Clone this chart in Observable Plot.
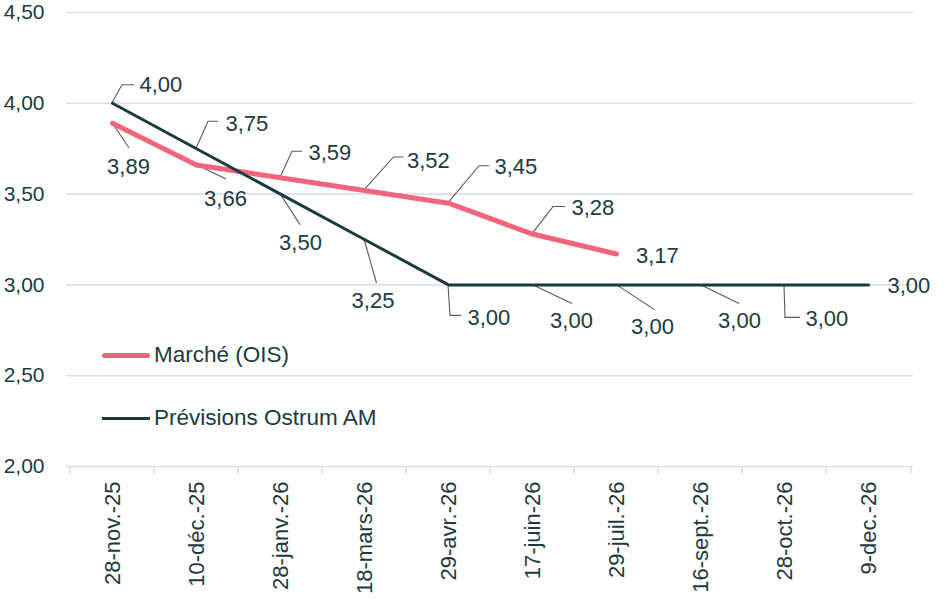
<!DOCTYPE html>
<html><head><meta charset="utf-8">
<script src="https://cdn.jsdelivr.net/npm/d3@7"></script>
<script src="https://cdn.jsdelivr.net/npm/@observablehq/plot@0.6"></script>
<style>
body{margin:0;background:#fff;font-family:"Liberation Sans",Arial,sans-serif;}
#wrap{position:relative;width:944px;height:599px;}
.leg{position:absolute;left:102px;display:flex;align-items:center;font-size:22.5px;line-height:26px;color:#1d3a40;white-space:nowrap;}
.sw{display:inline-block;width:48px;margin-right:4px;}
</style></head><body><div id="wrap"></div>
<script>
const categories = ["28-nov.-25","10-déc.-25","28-janv.-26","18-mars-26","29-avr.-26","17-juin-26","29-juil.-26","16-sept.-26","28-oct.-26","9-dec.-26"];
const marcheOIS = [3.89, 3.66, 3.59, 3.52, 3.45, 3.28, 3.17];
const previsionsOstrum = [4.00, 3.75, 3.50, 3.25, 3.00, 3.00, 3.00, 3.00, 3.00, 3.00];
const yTicks = [2.0, 2.5, 3.0, 3.5, 4.0, 4.5];
const seriesNames = ["Marché (OIS)", "Prévisions Ostrum AM"];

// colours
const pink = "#f2647b", dark = "#1b3a3f", textColor = "#1d3a40", gridColor = "#d7e0e8", leaderColor = "#5a5a5a";

// data-label placement (pixel offsets from each point)
const marcheLabelLayout = [
  {kind:"diag", ex:17, ey:25, tx:16, ty:44, anchor:"middle"},
  {kind:"diag", ex:30, ey:14.5, tx:29, ty:33.5, anchor:"middle"},
  {kind:"elbow", ex:12, ey:-26, hx:22, tx:28, ty:-25, anchor:"start"},
  {kind:"elbow", ex:29.5, ey:-33, hx:39.5, tx:42.5, ty:-30, anchor:"start"},
  {kind:"elbow", ex:31, ey:-37, hx:41, tx:46, ty:-36, anchor:"start"},
  {kind:"elbow", ex:21, ey:-27, hx:33, tx:39, ty:-26, anchor:"start"},
  {kind:"none", tx:19.5, ty:1.5, anchor:"start"}
];
const previsionsLabelLayout = [
  {kind:"elbow", ex:10, ey:-18, hx:22, tx:27, ty:-18, anchor:"start"},
  {kind:"elbow", ex:12, ey:-27, hx:22, tx:29, ty:-25, anchor:"start"},
  {kind:"diag", ex:20, ey:31, tx:20, ty:49, anchor:"middle"},
  {kind:"diag", ex:12.5, ey:44, tx:8.5, ty:61, anchor:"middle"},
  {kind:"elbow", ex:2, ey:31, hx:13, tx:19, ty:33, anchor:"start"},
  {kind:"diag", ex:40, ey:19, tx:39, ty:36, anchor:"middle"},
  {kind:"diag", ex:38, ey:25, tx:36, ty:42, anchor:"middle"},
  {kind:"diag", ex:39, ey:19, tx:39, ty:36, anchor:"middle"},
  {kind:"elbow", ex:1, ey:33, hx:16, tx:21, ty:34, anchor:"start"},
  {kind:"none", tx:19, ty:1, anchor:"start"}
];

const fmt = v => d3.format(".2f")(v).replace(".", ",");
const marcheRows = marcheOIS.map((v, i) => ({date: categories[i], value: v}));
const prevRows = previsionsOstrum.map((v, i) => ({date: categories[i], value: v}));

const W = 944, H = 599, mL = 66, mR = 31, mT = 12, mB = 133;
const step = (W - mL - mR) / categories.length;

function leaders(rows, layout) {
  return (index, scales) => {
    const g = d3.create("svg:g").attr("fill", "none").attr("stroke", leaderColor).attr("stroke-width", 1.1);
    rows.forEach((d, i) => {
      const l = layout[i];
      if (l.kind === "none") return;
      const px = scales.x(d.date), py = scales.y(d.value);
      const pts = l.kind === "elbow"
        ? [[px, py], [px + l.ex, py + l.ey], [px + l.hx, py + l.ey]]
        : [[px, py], [px + l.ex, py + l.ey]];
      g.append("path").attr("d", d3.line()(pts));
    });
    return g.node();
  };
}
function labels(rows, layout) {
  return rows.map((d, i) => Plot.text([d], {
    x: "date", y: "value", text: r => fmt(r.value),
    dx: layout[i].tx, dy: layout[i].ty, textAnchor: layout[i].anchor,
    fontSize: 22, fill: textColor
  }));
}

const chart = Plot.plot({
  width: W, height: H,
  marginLeft: mL, marginRight: mR, marginTop: mT, marginBottom: mB,
  style: {fontFamily: "'Liberation Sans', Arial, sans-serif", color: textColor, background: "#fff"},
  x: {type: "point", domain: categories, padding: 0.5},
  y: {domain: [2, 4.5]},
  marks: [
    Plot.ruleY(yTicks, {stroke: gridColor, strokeWidth: 1.6}),
    Plot.ruleX(categories, {x: d => d, y1: 2, y2: 2, insetBottom: -8, dx: -step / 2, stroke: gridColor, strokeWidth: 1.6}),
    Plot.ruleX(categories.slice(-1), {x: d => d, y1: 2, y2: 2, insetBottom: -8, dx: step / 2, stroke: gridColor, strokeWidth: 1.6}),
    Plot.axisY(yTicks, {tickSize: 0, tickPadding: 22, tickFormat: fmt, fontSize: 21, label: null, color: textColor}),
    Plot.axisX({tickSize: 0, tickPadding: 15, tickRotate: -90, fontSize: 22, label: null, color: textColor}),
    leaders(marcheRows, marcheLabelLayout),
    leaders(prevRows, previsionsLabelLayout),
    Plot.line(marcheRows, {x: "date", y: "value", stroke: pink, strokeWidth: 5, strokeLinecap: "round", strokeLinejoin: "round"}),
    Plot.line(prevRows, {x: "date", y: "value", stroke: dark, strokeWidth: 3, strokeLinejoin: "round"}),
    ...labels(marcheRows, marcheLabelLayout),
    ...labels(prevRows, previsionsLabelLayout)
  ]
});
const wrap = document.getElementById("wrap");
wrap.appendChild(chart);

// legend (overlaid inside the plot area, as in the original)
const legendItems = [
  {name: seriesNames[0], color: pink, thick: 5, top: 342},
  {name: seriesNames[1], color: dark, thick: 3, top: 405}
];
legendItems.forEach(it => {
  const div = document.createElement("div");
  div.className = "leg";
  div.style.top = it.top + "px";
  const sw = document.createElement("span");
  sw.className = "sw";
  sw.style.height = it.thick + "px";
  sw.style.background = it.color;
  sw.style.borderRadius = it.thick > 3 ? "3px" : "0";
  div.appendChild(sw);
  div.appendChild(document.createTextNode(it.name));
  wrap.appendChild(div);
});
</script>
</body></html>
